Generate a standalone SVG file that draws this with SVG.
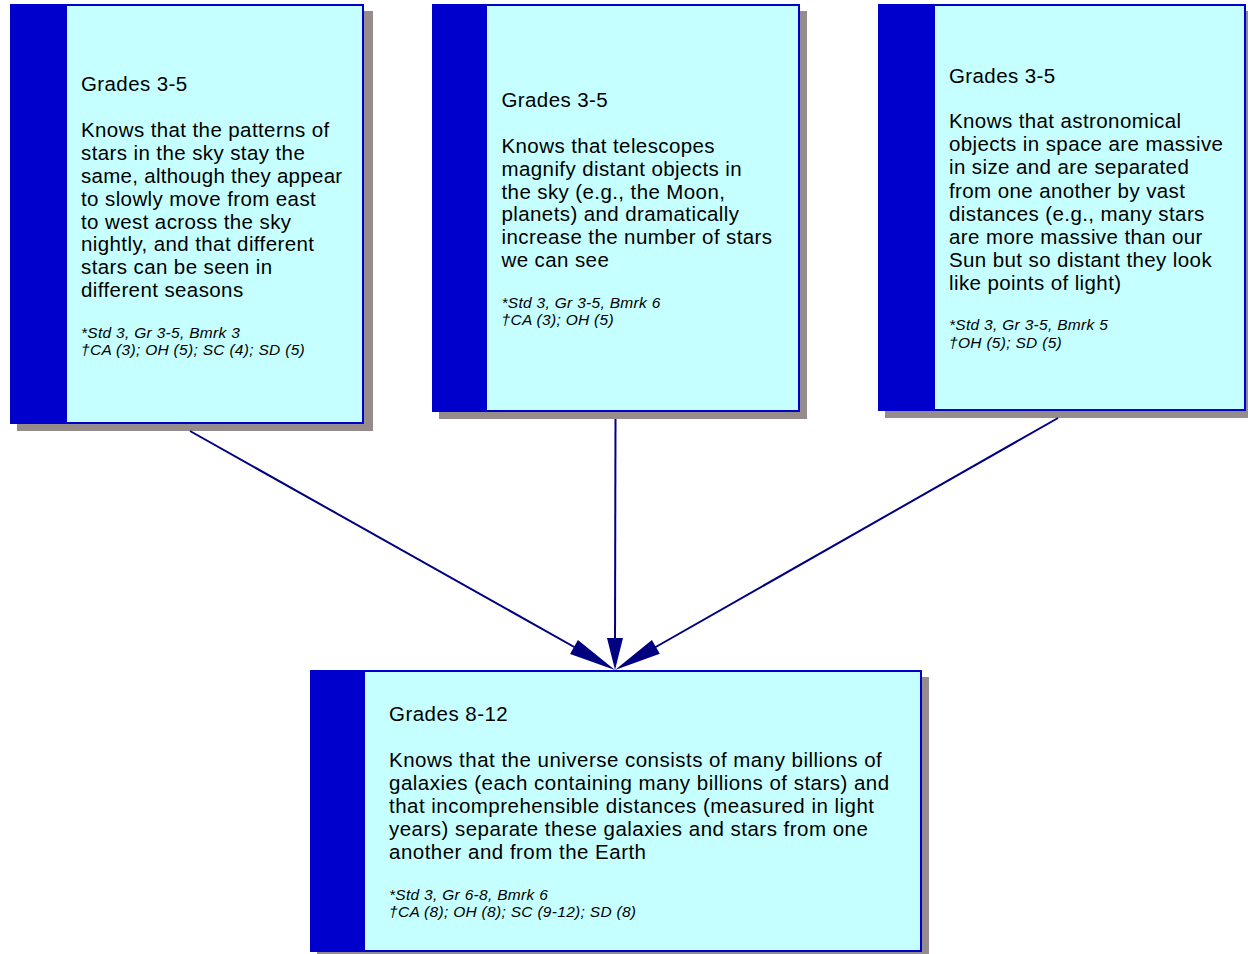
<svg xmlns="http://www.w3.org/2000/svg" width="1248" height="954" viewBox="0 0 1248 954">
  <style>
    .shadow { fill: #968c8c; }
    .card { fill: #c6ffff; stroke: #0000cc; stroke-width: 2; }
    .bar { fill: #0000cc; }
    .body { font-family: "Liberation Sans", Arial, sans-serif; font-size: 20.5px; letter-spacing: 0.4px; fill: #000000; }
    .wide { letter-spacing: 0.48px; }
    .note { font-family: "Liberation Sans", Arial, sans-serif; font-size: 15.5px; font-style: italic; letter-spacing: 0.3px; fill: #000000; }
    .link { stroke: #000080; stroke-width: 2; fill: none; }
    .head { fill: #000080; }
  </style>

  <rect width="1248" height="954" fill="#ffffff"/>

  <!-- Grades 3-5: star patterns -->
  <g id="node-star-patterns">
    <rect class="shadow" x="17" y="11" width="356" height="420"/>
    <rect class="card" x="11" y="5" width="352" height="418"/>
    <rect class="bar" x="10" y="4" width="57" height="420"/>
    <text class="body">
      <tspan x="81" y="91">Grades 3-5</tspan>
      <tspan x="81" y="137">Knows that the patterns of</tspan>
      <tspan x="81" y="160">stars in the sky stay the</tspan>
      <tspan x="81" y="183" letter-spacing="0.28">same, although they appear</tspan>
      <tspan x="81" y="206">to slowly move from east</tspan>
      <tspan x="81" y="229">to west across the sky</tspan>
      <tspan x="81" y="251">nightly, and that different</tspan>
      <tspan x="81" y="274">stars can be seen in</tspan>
      <tspan x="81" y="297">different seasons</tspan>
    </text>
    <text class="note">
      <tspan x="81" y="338">*Std 3, Gr 3-5, Bmrk 3</tspan>
      <tspan x="81" y="355">†CA (3); OH (5); SC (4); SD (5)</tspan>
    </text>
  </g>

  <!-- Grades 3-5: telescopes -->
  <g id="node-telescopes">
    <rect class="shadow" x="439" y="11" width="368" height="408"/>
    <rect class="card" x="433" y="5" width="366" height="406"/>
    <rect class="bar" x="432" y="4" width="55" height="408"/>
    <text class="body">
      <tspan x="501.5" y="107">Grades 3-5</tspan>
      <tspan x="501.5" y="153">Knows that telescopes</tspan>
      <tspan x="501.5" y="176">magnify distant objects in</tspan>
      <tspan x="501.5" y="199">the sky (e.g., the Moon,</tspan>
      <tspan x="501.5" y="221">planets) and dramatically</tspan>
      <tspan x="501.5" y="244">increase the number of stars</tspan>
      <tspan x="501.5" y="267">we can see</tspan>
    </text>
    <text class="note">
      <tspan x="501.5" y="308">*Std 3, Gr 3-5, Bmrk 6</tspan>
      <tspan x="501.5" y="325">†CA (3); OH (5)</tspan>
    </text>
  </g>

  <!-- Grades 3-5: astronomical objects -->
  <g id="node-astronomical-objects">
    <rect class="shadow" x="885" y="11" width="367" height="407"/>
    <rect class="card" x="879" y="5" width="366" height="405"/>
    <rect class="bar" x="878" y="4" width="57" height="407"/>
    <text class="body">
      <tspan x="949" y="83">Grades 3-5</tspan>
      <tspan x="949" y="128">Knows that astronomical</tspan>
      <tspan x="949" y="151">objects in space are massive</tspan>
      <tspan x="949" y="174">in size and are separated</tspan>
      <tspan x="949" y="198">from one another by vast</tspan>
      <tspan x="949" y="221">distances (e.g., many stars</tspan>
      <tspan x="949" y="244">are more massive than our</tspan>
      <tspan x="949" y="267">Sun but so distant they look</tspan>
      <tspan x="949" y="290">like points of light)</tspan>
    </text>
    <text class="note">
      <tspan x="949" y="330">*Std 3, Gr 3-5, Bmrk 5</tspan>
      <tspan x="949" y="348">†OH (5); SD (5)</tspan>
    </text>
  </g>

  <!-- Grades 8-12: universe of galaxies -->
  <g id="node-galaxies">
    <rect class="shadow" x="317" y="677" width="612" height="282"/>
    <rect class="card" x="311" y="671" width="610" height="280"/>
    <rect class="bar" x="310" y="670" width="55" height="282"/>
    <text class="body wide">
      <tspan x="389" y="721">Grades 8-12</tspan>
      <tspan x="389" y="767">Knows that the universe consists of many billions of</tspan>
      <tspan x="389" y="790">galaxies (each containing many billions of stars) and</tspan>
      <tspan x="389" y="813">that incomprehensible distances (measured in light</tspan>
      <tspan x="389" y="836">years) separate these galaxies and stars from one</tspan>
      <tspan x="389" y="859">another and from the Earth</tspan>
    </text>
    <text class="note">
      <tspan x="389" y="900">*Std 3, Gr 6-8, Bmrk 6</tspan>
      <tspan x="389" y="917">†CA (8); OH (8); SC (9-12); SD (8)</tspan>
    </text>
  </g>

  <!-- Prerequisite links into the Grades 8-12 benchmark -->
  <g id="connectors">
    <line class="link" x1="190" y1="431" x2="576" y2="648"/>
    <polygon class="head" points="615,670 570.1,653.9 577.9,640"/>
    <line class="link" x1="615.5" y1="419" x2="615" y2="640"/>
    <polygon class="head" points="615,670 607,638 623,638"/>
    <line class="link" x1="1058" y1="418" x2="654" y2="648"/>
    <polygon class="head" points="615,670 659.8,653.8 651.9,639.9"/>
  </g>
</svg>
